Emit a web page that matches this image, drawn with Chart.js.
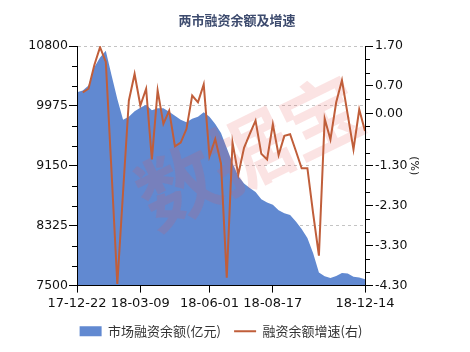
<!DOCTYPE html>
<html>
<head>
<meta charset="utf-8">
<script src="https://cdn.jsdelivr.net/npm/chart.js@4.4.1/dist/chart.umd.min.js"></script>
<style>
  html, body { margin: 0; padding: 0; background: #fff; }
  #wrap { width: 470px; height: 352px; }
</style>
</head>
<body>
<div id="wrap"><canvas id="chart" width="470" height="352"></canvas></div>
<script>
// weekly points, 2017-12-22 .. 2018-12-14 (national day week has no data)
var weeks = [
    '17-12-22', '17-12-29', '18-01-05', '18-01-12', '18-01-19', '18-01-26', '18-02-02', '18-02-09', '18-02-14', '18-02-23',
    '18-03-02', '18-03-09', '18-03-16', '18-03-23', '18-03-30', '18-04-04', '18-04-13', '18-04-20', '18-04-27', '18-05-04',
    '18-05-11', '18-05-18', '18-05-25', '18-06-01', '18-06-08', '18-06-15', '18-06-22', '18-06-29', '18-07-06', '18-07-13',
    '18-07-20', '18-07-27', '18-08-03', '18-08-10', '18-08-17', '18-08-24', '18-08-31', '18-09-07', '18-09-14', '18-09-21',
    '18-09-28', '18-10-12', '18-10-19', '18-10-26', '18-11-02', '18-11-09', '18-11-16', '18-11-23', '18-11-30', '18-12-07',
    '18-12-14'
];

// 市场融资余额 (亿元)
var marginBalance = [
    10164, 10187, 10257, 10508, 10640, 10735, 10396, 10069, 9784, 9825,
    9902, 9951, 9992, 9916, 9944, 9944, 9895, 9839, 9784, 9749,
    9798, 9825, 9888, 9825, 9724, 9603, 9394, 9185, 9011, 8906,
    8844, 8788, 8691, 8646, 8614, 8537, 8496, 8471, 8384, 8280,
    8154, 7946, 7681, 7630, 7604, 7632, 7674, 7667, 7621, 7611,
    7588
];

// 融资余额增速 (%), right axis
var marginGrowth = [
    null, 0.54, 0.63, 1.22, 1.67, 1.30, -1.46, -4.26, -1.95, 0.33,
    1.00, 0.21, 0.63, -1.14, 0.59, -0.25, 0.08, -0.81, -0.72, -0.38,
    0.46, 0.29, 0.74, -1.06, -0.63, -1.24, -4.10, -0.72, -1.52, -0.85,
    -0.50, -0.17, -1.00, -1.14, -0.26, -1.03, -0.55, -0.51, -0.93, -1.36,
    -1.36, -2.50, -3.55, -0.12, -0.64, 0.29, 0.84, -0.02, -0.89, 0.11,
    -0.43
];

var dateTicks = ['17-12-22', '18-03-09', '18-06-01', '18-08-17', '18-12-14'];
var balanceTicks = [7500, 8325, 9150, 9975, 10800];
var balanceMinorTicks = [7775, 8050, 8600, 8875, 9425, 9700, 10250, 10525];
var growthTicks = [1.7, 0.7, 0, -1.3, -2.3, -3.3, -4.3];
var growthMinorTicks = [1.367, 1.033, 0.367, 0.033, -0.3, -0.633, -0.967, -1.633, -1.967, -2.633, -2.967, -3.633, -3.967];

var cjk = "'Noto Sans CJK SC', sans-serif";
var num = "'DejaVu Sans', 'Noto Sans CJK SC', sans-serif";

var minorTicks = {
    id: 'minorTicks',
    afterDraw: function(chart) {
        var ctx = chart.ctx;
        var left = chart.scales.y;
        var right = chart.scales.y1;
        ctx.save();
        ctx.strokeStyle = '#000';
        ctx.lineWidth = 1;
        ctx.beginPath();
        balanceMinorTicks.forEach(function(v) {
            var y = Math.round(left.getPixelForValue(v)) + 0.5;
            ctx.moveTo(left.right - 5, y);
            ctx.lineTo(left.right, y);
        });
        growthMinorTicks.forEach(function(v) {
            var y = Math.round(right.getPixelForValue(v)) + 0.5;
            ctx.moveTo(right.left, y);
            ctx.lineTo(right.left + 5, y);
        });
        ctx.stroke();
        ctx.restore();
    }
};

// the source stamps its logo over the plot, above the area but under the line
var watermark = {
    id: 'watermark',
    afterDatasetDraw: function(chart, args) {
        if (args.index !== 0) return;
        var a = chart.chartArea;
        var ctx = chart.ctx;
        ctx.save();
        ctx.translate(a.left + (a.right - a.left) * 0.6, a.top + (a.bottom - a.top) * 0.44);
        ctx.rotate(-26 * Math.PI / 180);
        ctx.font = "bold 80px 'Noto Sans CJK SC'";
        ctx.fillStyle = 'rgba(232, 90, 90, 0.17)';
        ctx.textAlign = 'center';
        ctx.textBaseline = 'middle';
        ctx.fillText('数据宝', 0, 0);
        ctx.restore();
    }
};

// nudge the legend so it sits under the plot like the source
var legendShift = {
    id: 'legendShift',
    afterLayout: function(chart) {
        chart.legend.left -= 16;
        chart.legend.right -= 16;
    }
};

var ctx = document.getElementById('chart').getContext('2d');
var chart = new Chart(ctx, {
    type: 'line',
    data: {
        labels: weeks,
        datasets: [{
            label: '市场融资余额(亿元)',
            data: marginBalance,
            yAxisID: 'y',
            order: 1,
            fill: 'start',
            backgroundColor: '#6189d1',
            borderColor: '#6189d1',
            borderWidth: 0,
            tension: 0,
            pointRadius: 0,
            pointStyle: 'rect',
            pointBorderWidth: 0,
            pointBackgroundColor: '#6189d1'
        }, {
            label: '融资余额增速(右)',
            data: marginGrowth,
            yAxisID: 'y1',
            order: 0,
            fill: false,
            borderColor: '#c05e3a',
            backgroundColor: '#c05e3a',
            borderWidth: 2,
            tension: 0,
            pointRadius: 0,
            pointStyle: 'line',
            pointBorderWidth: 2,
            pointBorderColor: '#c05e3a'
        }]
    },
    options: {
        responsive: false,
        animation: false,
        events: [],
        layout: { padding: { left: 4, right: 0, top: 0, bottom: 4.2 } },
        plugins: {
            title: {
                display: true,
                text: '两市融资余额及增速',
                color: '#3d4b6e',
                font: { family: cjk, size: 13, weight: 'bold' },
                padding: { top: 12, bottom: 18.4 }
            },
            legend: {
                position: 'bottom',
                labels: {
                    usePointStyle: true,
                    pointStyleWidth: 22,
                    boxHeight: 10,
                    padding: 13.2,
                    color: '#333',
                    font: { family: cjk, size: 13 },
                    sort: function(a, b) { return a.datasetIndex - b.datasetIndex; }
                }
            },
            tooltip: { enabled: false }
        },
        scales: {
            x: {
                type: 'category',
                offset: false,
                afterBuildTicks: function(scale) {
                    scale.ticks = scale.ticks.filter(function(t) {
                        return dateTicks.indexOf(weeks[t.value]) >= 0;
                    });
                },
                afterFit: function(scale) { scale.height = 26; },
                grid: { drawOnChartArea: false, tickLength: 7, tickColor: '#000' },
                border: { color: '#000', z: 1 },
                ticks: {
                    autoSkip: false,
                    maxRotation: 0,
                    padding: 3,
                    color: '#111',
                    font: { family: num, size: 13 }
                }
            },
            y: {
                position: 'left',
                min: 7500,
                max: 10800,
                afterBuildTicks: function(scale) {
                    scale.ticks = balanceTicks.map(function(v) { return { value: v }; });
                },
                afterFit: function(scale) { scale.width = 73; },
                grid: { color: '#c4c4c4', tickLength: 8, tickColor: '#000' },
                border: { color: '#000', dash: [3, 3], z: 1 },
                ticks: {
                    padding: 1,
                    color: '#111',
                    font: { family: num, size: 12.5 },
                    callback: function(v) { return String(v); }
                }
            },
            y1: {
                position: 'right',
                min: -4.3,
                max: 1.7,
                afterBuildTicks: function(scale) {
                    scale.ticks = growthTicks.map(function(v) { return { value: v }; });
                },
                afterFit: function(scale) { scale.width = 105; },
                grid: { drawOnChartArea: false, tickLength: 8, tickColor: '#000' },
                border: { color: '#000', z: 1 },
                title: {
                    display: true,
                    text: '(%)',
                    color: '#111',
                    font: { family: num, size: 11 },
                    padding: { top: 50, bottom: 0 }
                },
                ticks: {
                    padding: 2,
                    color: '#111',
                    font: { family: num, size: 12.5 },
                    callback: function(v) { return v.toFixed(2); }
                }
            }
        }
    },
    plugins: [minorTicks, watermark, legendShift]
});
</script>
</body>
</html>
